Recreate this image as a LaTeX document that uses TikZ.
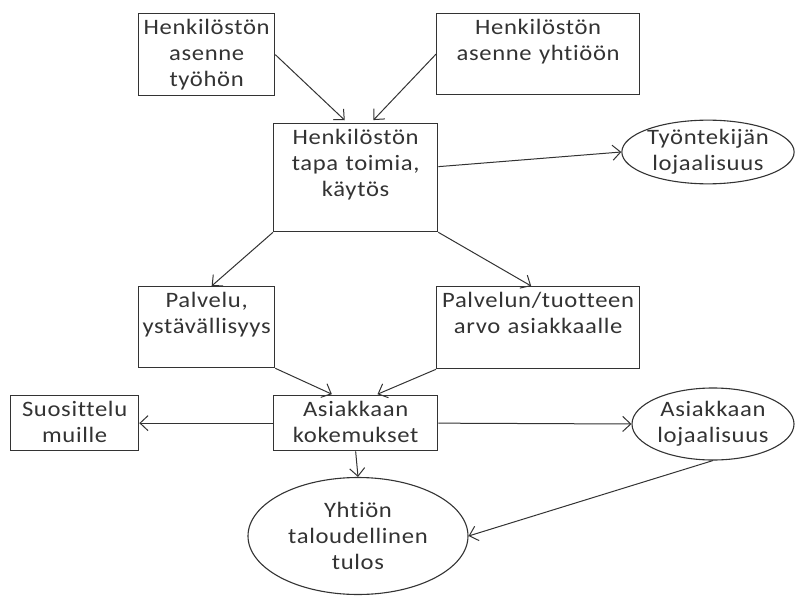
\documentclass[tikz,border=0pt]{standalone}
\usepackage{fontspec}
\setmainfont{Carlito}[FakeStretch=1.12, LetterSpace=3, Ligatures=NoCommon]
\usetikzlibrary{shapes.geometric,arrows.meta}

\begin{document}
\fontsize{22}{26}\selectfont
\begin{tikzpicture} [x=1pt, y=-1pt,
    >={Straight Barb[length=8pt,width=15pt]},
    line width=1pt, draw=black!80, text=black!80,
    box/.style={rectangle, draw, line width=1.3pt, anchor=north west, align=center,
                inner xsep=1pt, inner ysep=6pt, text height=15pt},
    oval/.style={ellipse, draw, line width=1.1pt, align=center, inner sep=0pt}]
  \useasboundingbox (0,0) rectangle (795,596);

  \node[box, text width=134pt, text depth=55pt] (AT) at (138,13)  {Henkilöstön\\asenne\\työhön};
  \node[box, text width=201pt, text depth=54pt] (AY) at (436,13)  {Henkilöstön\\asenne yhtiöön};
  \node[box, text width=162pt, text depth=81pt] (KT) at (273,123) {Henkilöstön\\tapa toimia,\\käytös};
  \node[box, text width=134pt, text depth=54pt] (PY) at (138,286) {Palvelu,\\ystävällisyys};
  \node[box, text width=201pt, text depth=55pt] (PA) at (436,286) {Palvelun/tuotteen\\arvo asiakkaalle};
  \node[box, text width=162pt, text depth=28pt] (AK) at (273,395) {Asiakkaan\\kokemukset};
  \node[box, text width=126pt, text depth=28pt] (SM) at (10,395)  {Suosittelu\\muille};

  \node[oval, minimum width=172pt, minimum height=60pt]  (TL) at (708,152) {Työntekijän\\lojaalisuus};
  \node[oval, minimum width=162pt, minimum height=72pt]  (AL) at (713,424) {Asiakkaan\\lojaalisuus};
  \node[oval, minimum width=220pt, minimum height=117pt] (YT) at (358,536) {Yhtiön\\taloudellinen\\tulos};

  \draw[->, shorten >=4pt] (AT.east) -- ([xshift=-8pt]KT.north);
  \draw[->, shorten >=4pt] (AY.west) -- ([xshift=15pt]KT.north);
  \draw[->] ([yshift=11pt]KT.east) -- (TL.west);
  \draw[->] (KT.south west) -- ([xshift=5pt]PY.north);
  \draw[->] (KT.south east) -- ([xshift=-7pt]PA.north);
  \draw[->, shorten >=2pt] (PY.south east) -- ([xshift=-22pt]AK.north);
  \draw[->, shorten >=2pt] (PA.south west) -- ([xshift=20pt]AK.north);
  \draw[->] (AK.west) -- (SM.east);
  \draw[->] (AK.east) -- (AL.west);
  \draw[->] (AK.south) -- (YT.north);
  \draw[->] (AL.south) -- (YT.east);
\end{tikzpicture}
\end{document}
